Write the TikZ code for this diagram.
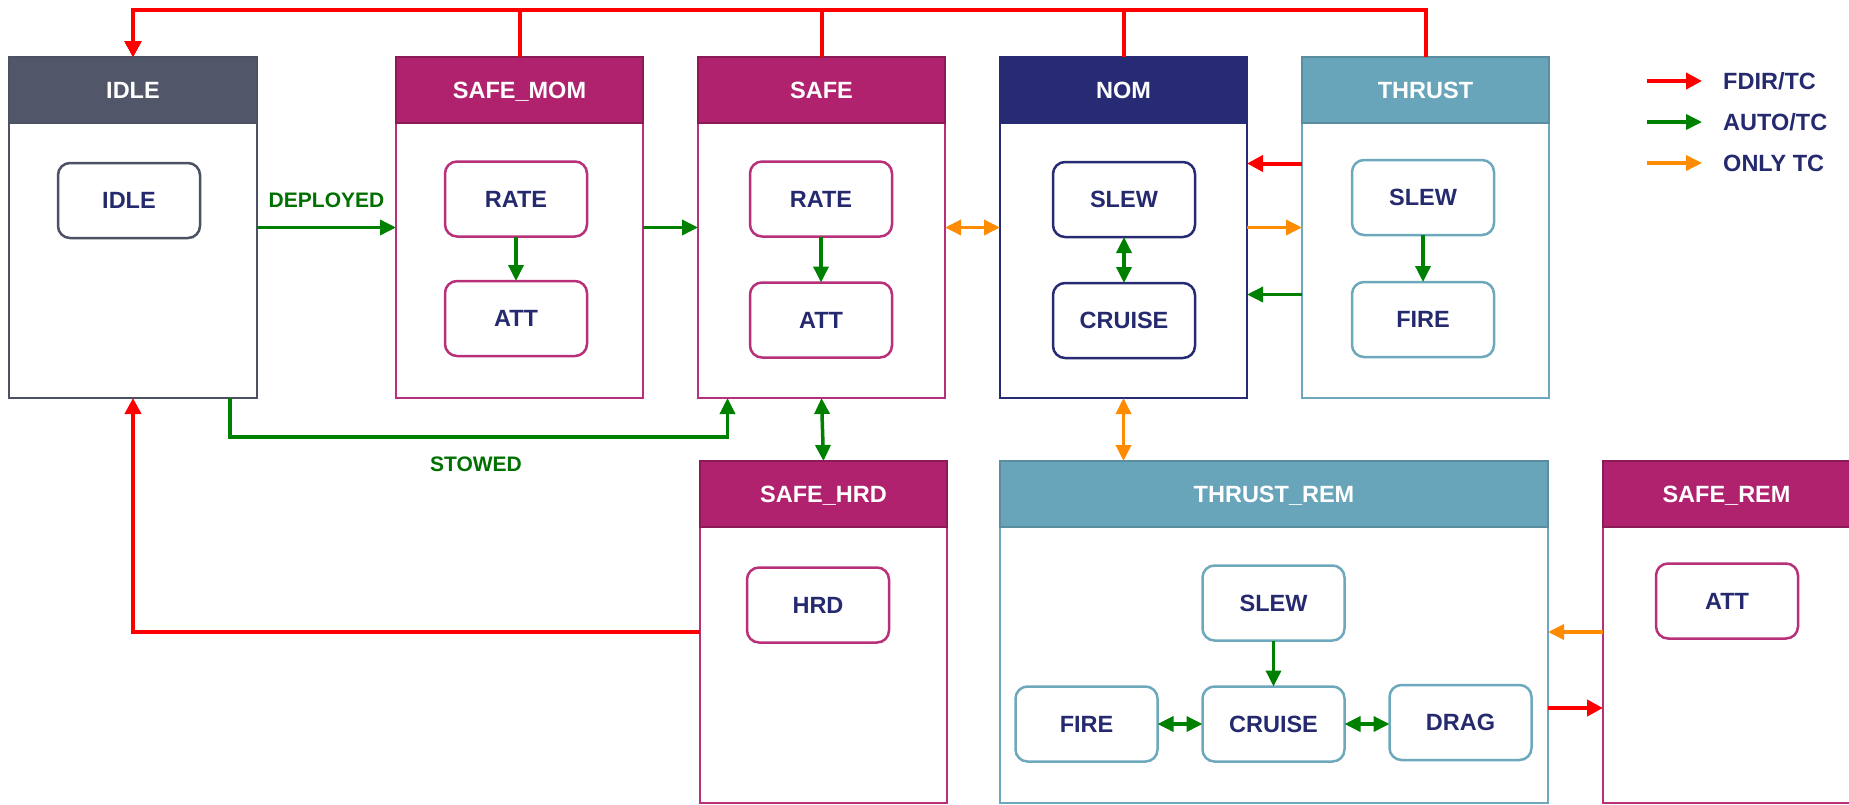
\documentclass[tikz,border=0pt]{standalone}
\usepackage{fontspec}
\setmainfont{Liberation Sans}
\usetikzlibrary{arrows.meta,calc}
\definecolor{navy}{HTML}{252A6E}
\definecolor{idlehd}{HTML}{515669}
\definecolor{idlebd}{HTML}{4C5163}
\definecolor{maghd}{HTML}{B0226E}
\definecolor{magdk}{HTML}{8C1A57}
\definecolor{magbd}{HTML}{B8307A}
\definecolor{nomhd}{HTML}{262B74}
\definecolor{thhd}{HTML}{68A4BA}
\definecolor{thdk}{HTML}{5A8D9D}
\definecolor{thbd}{HTML}{6DA8BC}
\definecolor{cgreen}{HTML}{008000}
\definecolor{cred}{HTML}{FF0000}
\definecolor{corange}{HTML}{FF8C00}
\definecolor{lblgreen}{HTML}{007000}
\newcommand\mybig{\fontsize{23.5}{28}\selectfont\bfseries}
\newcommand\mylbl{\fontsize{21}{25}\selectfont\bfseries}
\begin{document}
\begin{tikzpicture}[x=1pt,y=-1pt,
  cont/.style={rectangle, draw=#1, line width=2.5pt, fill=white, minimum width=247pt, minimum height=341pt, inner sep=0pt, outer sep=0pt},
  hdr/.style 2 args={rectangle, fill=#1, draw=#2, line width=2.5pt, minimum height=66pt, anchor=north, text=white, font=\mybig, text height=17pt, text depth=0pt, inner sep=0pt, outer sep=0pt},
  inbox/.style={rectangle, draw=#1, line width=2.5pt, rounded corners=12pt, minimum width=142pt, minimum height=75pt, fill=white, text=navy, font=\mybig, inner sep=0pt, outer sep=0pt},
  rline/.style={draw=cred, line width=4pt, -{Triangle[length=16pt,width=16pt]}},
  gline/.style={draw=cgreen, line width=3.5pt, -{Triangle[length=16pt,width=15pt]}},
  gdouble/.style={draw=cgreen, line width=3.5pt, {Triangle[length=16pt,width=15pt]}-{Triangle[length=16pt,width=15pt]}},
  oline/.style={draw=corange, line width=3.5pt, -{Triangle[length=16pt,width=15pt]}},
  odouble/.style={draw=corange, line width=3.5pt, {Triangle[length=16pt,width=15pt]}-{Triangle[length=16pt,width=15pt]}},
  lbl/.style={text=lblgreen, font=\mylbl, inner sep=0pt},
  lgd/.style={anchor=west, text=navy, font=\mybig, inner sep=0pt}
]
\useasboundingbox (0,0) rectangle (1849,804);

% containers
\node[cont=idlebd, minimum width=248pt] (idle) at (133,227.5) {};
\node[hdr={idlehd}{idlebd}, minimum width=248pt] (idleh) at (idle.north) {IDLE};
\node[cont=magbd] (safemom) at (519.5,227.5) {};
\node[hdr={maghd}{magdk}, minimum width=247pt] (safemomh) at (safemom.north) {SAFE\_MOM};
\node[cont=magbd] (safe) at (821.5,227.5) {};
\node[hdr={maghd}{magdk}, minimum width=247pt] (safeh) at (safe.north) {SAFE};
\node[cont=nomhd] (nom) at (1123.5,227.5) {};
\node[hdr={nomhd}{nomhd}, minimum width=247pt] (nomh) at (nom.north) {NOM};
\node[cont=thbd] (thrust) at (1425.5,227.5) {};
\node[hdr={thhd}{thdk}, minimum width=247pt] (thrusth) at (thrust.north) {THRUST};
\node[cont=magbd, minimum height=342pt] (safehrd) at (823.5,632) {};
\node[hdr={maghd}{magdk}, minimum width=247pt] (safehrdh) at (safehrd.north) {SAFE\_HRD};
\node[cont=thbd, minimum width=548pt, minimum height=342pt] (thrustrem) at (1274,632) {};
\node[hdr={thhd}{thdk}, minimum width=548pt] (thrustremh) at (thrustrem.north) {THRUST\_REM};
\node[cont=magbd, minimum height=342pt] (saferem) at (1726.5,632) {};
\node[hdr={maghd}{magdk}, minimum width=247pt] (saferemh) at (saferem.north) {SAFE\_REM};

% inner states
\node[inbox=idlebd] (idlei) at (129,200.5) {IDLE};
\node[inbox=magbd] (smrate) at (516,199) {RATE};
\node[inbox=magbd] (smatt) at (516,318.5) {ATT};
\node[inbox=magbd] (srate) at (821,199) {RATE};
\node[inbox=magbd] (satt) at (821,320) {ATT};
\node[inbox=nomhd] (nslew) at (1124,199.5) {SLEW};
\node[inbox=nomhd] (ncruise) at (1124,320.5) {CRUISE};
\node[inbox=thbd] (tslew) at (1423,197.5) {SLEW};
\node[inbox=thbd] (tfire) at (1423,319.5) {FIRE};
\node[inbox=magbd] (hrd) at (818,605) {HRD};
\node[inbox=thbd] (trslew) at (1273.5,603) {SLEW};
\node[inbox=thbd] (trfire) at (1086.5,724) {FIRE};
\node[inbox=thbd] (trcruise) at (1273.5,724) {CRUISE};
\node[inbox=thbd] (trdrag) at (1460.5,722.5) {DRAG};
\node[inbox=magbd] (sratt) at (1727,601) {ATT};

% top red FDIR lines to IDLE
\coordinate (topy) at (0,10);
\draw[rline] (thrust.north) |- (topy -| idle.north) -- (idle.north);
\draw[rline] (nom.north) |- (topy -| idle.north) -- (idle.north);
\draw[rline] (safe.north) |- (topy -| idle.north) -- (idle.north);
\draw[rline] (safemom.north) |- (topy -| idle.north) -- (idle.north);

% horizontal transitions
\draw[gline] (idle.east) -- (safemom.west) node[lbl, midway, above=18pt] (deployed) {DEPLOYED};
\draw[gline] (safemom.east) -- (safe.west);
\draw[odouble] (safe.east) -- (nom.west);
\draw[rline] ($(thrust.west)+(0,-64)$) -- ($(nom.east)+(0,-64)$);
\draw[oline] (nom.east) -- (thrust.west);
\draw[gline] ($(thrust.west)+(0,67)$) -- ($(nom.east)+(0,67)$);

% stowed
\draw[gline] ($(idle.south)+(97,0)$) -- ++(0,39) -| ($(safe.south)+(-94,0)$);
\node[lbl] (stowed) at (476,464) {STOWED};

% vertical transitions
\draw[gdouble] (safe.south) -- (safehrd.north);
\draw[rline] (safehrd.west) -| (idle.south);
\draw[odouble] (nom.south) -- (nom.south |- thrustrem.north);
\draw[oline] (saferem.west) -- (thrustrem.east);
\draw[rline] ($(thrustrem.east)+(0,76)$) -- ($(saferem.west)+(0,76)$);

% inner transitions
\draw[gline] (smrate.south) -- (smatt.north);
\draw[gline] (srate.south) -- (satt.north);
\draw[gdouble] (nslew.south) -- (ncruise.north);
\draw[gline] (tslew.south) -- (tfire.north);
\draw[gline] (trslew.south) -- (trcruise.north);
\draw[gdouble] (trfire.east) -- (trcruise.west);
\draw[gdouble] (trcruise.east) -- (trdrag.west |- trcruise.east);

% legend
\coordinate (l1a) at (1647,81); \coordinate (l1b) at (1702,81);
\coordinate (l2a) at (1647,122); \coordinate (l2b) at (1702,122);
\coordinate (l3a) at (1647,163); \coordinate (l3b) at (1702,163);
\draw[rline] (l1a) -- (l1b);
\draw[gline] (l2a) -- (l2b);
\draw[oline] (l3a) -- (l3b);
\node[lgd] (lg1) at (1723,81) {FDIR/TC};
\node[lgd] (lg2) at (1723,122) {AUTO/TC};
\node[lgd] (lg3) at (1723,163) {ONLY TC};
\end{tikzpicture}
\end{document}
